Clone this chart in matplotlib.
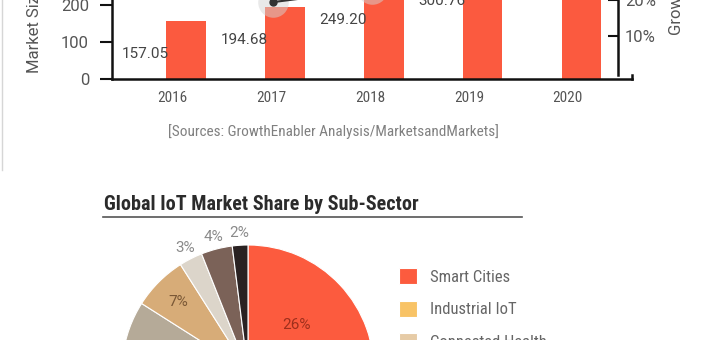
import matplotlib
matplotlib.use("Agg")
import matplotlib.pyplot as plt
from matplotlib import font_manager
from matplotlib.lines import Line2D
from matplotlib.ticker import FuncFormatter
import numpy as np

# market size (USD bn) and yearly growth
years = ["2016", "2017", "2018", "2019", "2020"]
market_size = [157.05, 194.68, 249.20, 300.76, 457.29]
growth = [np.nan, 19.4, 22.9, 32.7, 40.2]

# market share by sub-sector (%)
sectors = ["Smart Cities", "Industrial IoT", "Connected Health", "Smart Homes",
           "Connected Cars", "Wearables", "Smart Utilities", "Others"]
share = [26, 24, 20, 14, 7, 3, 4, 2]
sector_colors = ["#FC5B3E", "#F8C366", "#E6CBA6", "#B5AA98",
                 "#D7AC78", "#DCD5CA", "#7B6258", "#2A2222"]
pct_radius = [0.53, 0.6, 0.6, 0.65, 0.78, 1.1, 1.1, 1.1]
pct_colors = ["#9E2F1C", "#7a5a30", "#6b5a45", "#5a5045",
              "#7A5836", "#8a8a8a", "#8a8a8a", "#8a8a8a"]

installed = {f.name for f in font_manager.fontManager.ttflist}


def pick(*names):
    for n in names:
        if n in installed:
            return n
    return "DejaVu Sans"


narrow = pick("Roboto Condensed", "Liberation Sans Narrow", "Roboto")
regular = pick("Roboto", "Liberation Sans")
plt.rcParams["font.family"] = [narrow, "DejaVu Sans"]

W, H = 720, 340
fig = plt.figure(figsize=(W / 100, H / 100), dpi=100)
fig.patch.set_facecolor("white")

# ---- bar chart: market size + growth line
ax = fig.add_axes([112 / W, 261 / H, 520 / W, 185 / H])
x = np.arange(len(years))
ax.bar(x + 0.14, market_size, width=0.4, color="#FB5A3F", zorder=2)
ax.set_xlim(-0.61, 4.65)
ax.set_ylim(0, 500)
ax.set_xticks(x)
ax.set_xticklabels(years)
ax.set_yticks([0, 100, 200, 300, 400, 500])
ax.tick_params(axis="x", length=0, pad=9, labelsize=11, labelcolor="#555")
ax.tick_params(axis="y", direction="out", length=8.5, width=1.5, pad=8,
               labelsize=12, labelcolor="#555", color="#111")
for lbl in ax.get_yticklabels():
    lbl.set_fontfamily(regular)
ax.spines["top"].set_visible(False)
ax.spines["right"].set_bounds(0, 11)
for s in ("left", "bottom", "right"):
    ax.spines[s].set_linewidth(1.8)
    ax.spines[s].set_color("#111")

for xi, v in zip(x, market_size):
    ax.annotate(f"{v:.2f}", xy=(xi + 0.14 - 0.2, v), xytext=(-21, -33),
                textcoords="offset pixels", ha="center", va="center",
                fontsize=11, color="#444", family=regular)

ax.set_ylabel("Market Size (USD Billion)", loc="bottom", fontsize=12,
              color="#555", family=regular)
ax.yaxis.set_label_coords(-0.133, 0.035)

ax2 = ax.twinx()
ax2.set_ylim(-1.94, 49.4)
ax2.set_yticks([10, 20, 30, 40])
ax2.yaxis.set_major_formatter(FuncFormatter(lambda v, p: f"{v:.0f}%"))
for s in ("left", "top", "bottom"):
    ax2.spines[s].set_visible(False)
ax2.spines["right"].set_position(("axes", 0.973))
ax2.spines["right"].set_bounds(-0.8, 49.4)
ax2.spines["right"].set_linewidth(1.8)
ax2.spines["right"].set_color("#111")
ax2.tick_params(axis="y", direction="in", length=7, width=1.5, pad=5,
                labelsize=12, labelcolor="#555", color="#111")
for lbl in ax2.get_yticklabels():
    lbl.set_fontfamily(regular)
ax2.plot(x + 0.02, growth, ls="none", marker="o", ms=22, mfc="#d4d4d4",
         mec="none", alpha=0.5, zorder=1)
ax2.plot(x + 0.02, growth, color="#333", lw=1.5, marker="o", ms=5, zorder=3)
ax2.set_ylabel("Growth Rate (%)", loc="bottom", fontsize=12,
               color="#555", family=regular)
ax2.yaxis.set_label_coords(1.069, 0.238)

fig.text(333 / W, 1 - 132 / H,
         "[Sources: GrowthEnabler Analysis/MarketsandMarkets]",
         ha="center", va="center", fontsize=11, color="#808080")

# frame edge of the infographic panel
fig.add_artist(Line2D([2 / W, 2 / W], [1, 1 - 170 / H], color="#d6d6d6", lw=1))

# ---- pie chart: share by sub-sector
fig.text(104 / W, 1 - 204 / H, "Global IoT Market Share by Sub-Sector",
         ha="left", va="center", fontsize=14.5, fontweight="bold",
         color="#2b2b2b")
fig.add_artist(Line2D([103 / W, 522 / W], [1 - 217 / H] * 2,
                      color="#555", lw=1.2))

pax = fig.add_axes([122 / W, (H - 371 - 126) / H, 252 / W, 252 / H])
wedges, _ = pax.pie(share, colors=sector_colors, startangle=90,
                    counterclock=False,
                    wedgeprops=dict(edgecolor="white", linewidth=0.8))
pax.set_xlim(-1, 1)
pax.set_ylim(-1, 1)
for w, s, r, c in zip(wedges, share, pct_radius, pct_colors):
    ang = np.deg2rad((w.theta1 + w.theta2) / 2)
    pax.text(r * np.cos(ang), r * np.sin(ang), f"{s}%", ha="center",
             va="center", fontsize=11, color=c, family=regular)

fig.legend(wedges, sectors, loc="upper left",
           bbox_to_anchor=(399 / W, 1 - 268 / H), frameon=False,
           fontsize=12, handlelength=1.08, handleheight=1.08,
           handletextpad=0.8, labelspacing=0.97, borderpad=0,
           borderaxespad=0, labelcolor="#666")

fig.savefig("out.png", dpi=100)
